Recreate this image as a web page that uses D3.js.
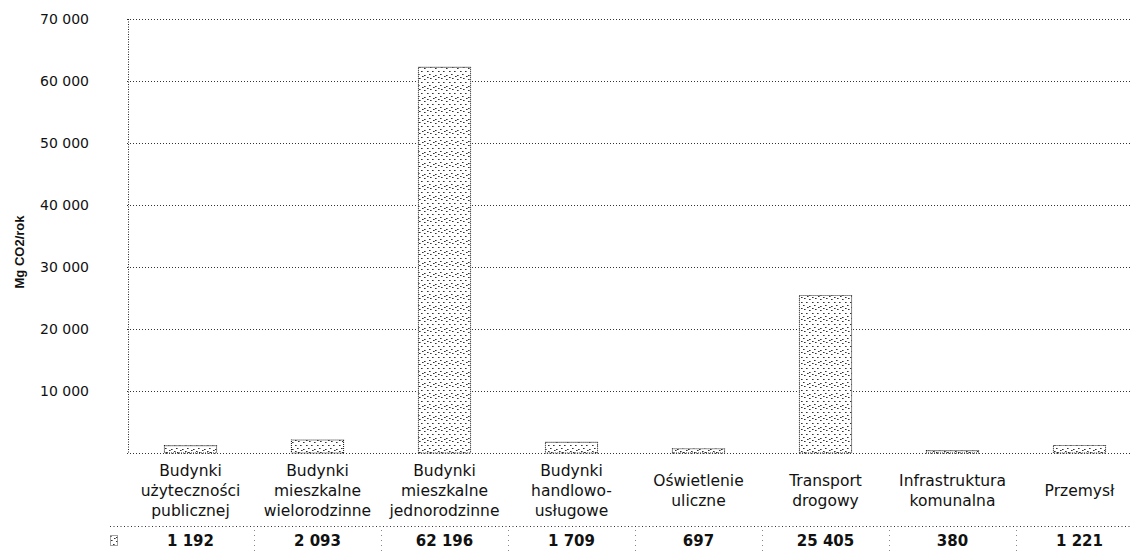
<!DOCTYPE html>
<html>
<head>
<meta charset="utf-8">
<script src="https://cdn.jsdelivr.net/npm/d3@7"></script>
<style>
  body { margin: 0; background: #fff; }
  svg { display: block; }
  text { fill: #111; }
</style>
</head>
<body>
<svg width="1130" height="554"></svg>
<script>
// dane z wykresu
var categories = [
    "Budynki użyteczności publicznej",
    "Budynki mieszkalne wielorodzinne",
    "Budynki mieszkalne jednorodzinne",
    "Budynki handlowo-usługowe",
    "Oświetlenie uliczne",
    "Transport drogowy",
    "Infrastruktura komunalna",
    "Przemysł"
];
var categoryLines = [
    ["Budynki", "użyteczności", "publicznej"],
    ["Budynki", "mieszkalne", "wielorodzinne"],
    ["Budynki", "mieszkalne", "jednorodzinne"],
    ["Budynki", "handlowo-", "usługowe"],
    ["Oświetlenie", "uliczne"],
    ["Transport", "drogowy"],
    ["Infrastruktura", "komunalna"],
    ["Przemysł"]
];
var emissions = [1192, 2093, 62196, 1709, 697, 25405, 380, 1221];
var yTicks = [10000, 20000, 30000, 40000, 50000, 60000, 70000];
var yTitle = "Mg CO2/rok";

var pl = d3.formatLocale({decimal: ",", thousands: " ", grouping: [3], currency: ["", ""]});
var fmt = pl.format(",d");

var svg = d3.select("svg");
var plotLeft = 127, plotRight = 1143, plotTop = 19, plotBottom = 453;

var x = d3.scaleBand()
    .domain(categories)
    .range([plotLeft, plotRight])
    .padding(0);

var y = d3.scaleLinear()
    .domain([0, 70000])
    .range([plotBottom, plotTop]);

var barW = x.bandwidth() * 0.41;

// deseń kropkowany słupków
var defs = svg.append("defs");
var pat = defs.append("pattern")
    .attr("id", "stipple")
    .attr("width", 11).attr("height", 11)
    .attr("patternUnits", "userSpaceOnUse");
pat.append("rect").attr("width", 11).attr("height", 11).attr("fill", "#fff");
[[1, 1], [6, 2], [3, 5], [9, 5], [0, 8], [6, 9], [9, 0], [4, 10]].forEach(function (p) {
    pat.append("rect")
        .attr("x", p[0]).attr("y", p[1])
        .attr("width", 1.6).attr("height", 1)
        .attr("fill", "#333");
});

// linie siatki
svg.append("g")
    .selectAll("line")
    .data(yTicks)
    .enter()
    .append("line")
    .attr("x1", plotLeft)
    .attr("x2", 1130)
    .attr("y1", function (d) { return Math.round(y(d)) + 0.5; })
    .attr("y2", function (d) { return Math.round(y(d)) + 0.5; })
    .attr("stroke", "#333")
    .attr("stroke-width", 1)
    .attr("stroke-dasharray", "1,2");

// oś pionowa
svg.append("line")
    .attr("x1", 128.5).attr("x2", 128.5)
    .attr("y1", y(70000)).attr("y2", y(0))
    .attr("stroke", "#222")
    .attr("stroke-dasharray", "1,1.5");

// etykiety osi Y
svg.append("g")
    .selectAll("text")
    .data(yTicks)
    .enter()
    .append("text")
    .attr("x", 89)
    .attr("y", function (d) { return y(d); })
    .attr("dy", "0.36em")
    .attr("text-anchor", "end")
    .style("font-family", "DejaVu Sans")
    .style("font-size", "14px")
    .text(function (d) { return fmt(d); });

svg.append("text")
    .attr("transform", "translate(24,252) rotate(-90)")
    .attr("text-anchor", "middle")
    .style("font-family", "Liberation Sans")
    .style("font-weight", "bold")
    .style("font-size", "13px")
    .text(yTitle);

// słupki
svg.append("g")
    .selectAll("rect")
    .data(emissions)
    .enter()
    .append("rect")
    .attr("x", function (d, i) { return x(categories[i]) + (x.bandwidth() - barW) / 2; })
    .attr("y", function (d) { return y(d); })
    .attr("width", barW)
    .attr("height", function (d) { return y(0) - y(d); })
    .attr("fill", "url(#stipple)")
    .attr("stroke", "#222")
    .attr("stroke-width", 1.1)
    .attr("stroke-dasharray", "1,1");

// linia zera
svg.append("line")
    .attr("x1", plotLeft).attr("x2", 1130)
    .attr("y1", Math.round(y(0)) + 0.5).attr("y2", Math.round(y(0)) + 0.5)
    .attr("stroke", "#333")
    .attr("stroke-dasharray", "1,2");

// etykiety kategorii
var lab = svg.append("g")
    .selectAll("text")
    .data(categoryLines)
    .enter()
    .append("text")
    .attr("text-anchor", "middle")
    .style("font-family", "DejaVu Sans")
    .style("font-size", "15.5px");
lab.each(function (lines, i) {
    var t = d3.select(this);
    var cx = x(categories[i]) + x.bandwidth() / 2;
    var y0 = 476 + (3 - lines.length) * 10;
    lines.forEach(function (s, k) {
        t.append("tspan")
            .attr("x", cx)
            .attr("y", y0 + k * 20)
            .text(s);
    });
});

// tabela danych
svg.append("line")
    .attr("x1", 110).attr("x2", 1130)
    .attr("y1", 526.5).attr("y2", 526.5)
    .attr("stroke", "#333")
    .attr("stroke-dasharray", "1,2.5");

svg.append("g")
    .selectAll("line")
    .data(categories.slice(1))
    .enter()
    .append("line")
    .attr("x1", function (d) { return Math.round(x(d)) + 0.5; })
    .attr("x2", function (d) { return Math.round(x(d)) + 0.5; })
    .attr("y1", 530).attr("y2", 554)
    .attr("stroke", "#888")
    .attr("stroke-dasharray", "1,4");

svg.append("rect")
    .attr("x", 110.5).attr("y", 535.5)
    .attr("width", 7).attr("height", 10)
    .attr("fill", "url(#stipple)")
    .attr("stroke", "#444")
    .attr("stroke-dasharray", "1,1");

svg.append("g")
    .selectAll("text")
    .data(emissions)
    .enter()
    .append("text")
    .attr("x", function (d, i) { return x(categories[i]) + x.bandwidth() / 2; })
    .attr("y", 546)
    .attr("text-anchor", "middle")
    .style("font-family", "DejaVu Sans")
    .style("font-weight", "bold")
    .style("font-size", "15px")
    .text(function (d) { return fmt(d); });
</script>
</body>
</html>
